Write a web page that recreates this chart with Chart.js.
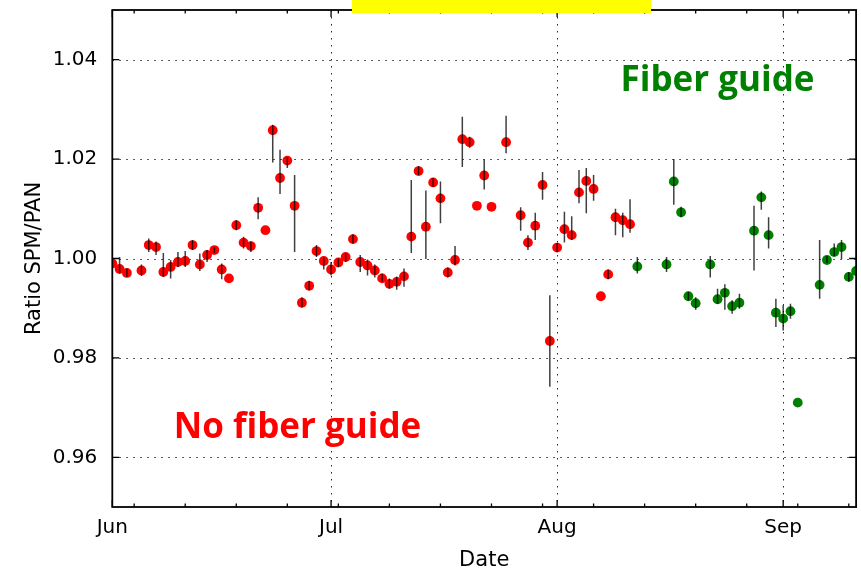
<!DOCTYPE html>
<html>
<head>
<meta charset="utf-8">
<script src="https://cdn.jsdelivr.net/npm/chart.js@4.4.1/dist/chart.umd.min.js"></script>
<style>
  html, body { margin: 0; padding: 0; background: #ffffff; }
  #wrap { position: relative; width: 861px; height: 569px; }
  #banner { position: absolute; left: 352px; top: 0px; width: 299px; height: 13px; background: #ffff00; }
</style>
</head>
<body>
<div id="wrap">
  <canvas id="c" width="861" height="569"></canvas>
  <div id="banner"></div>
</div>
<script>
// ---- data (x = days since 1 June) ----
const monthTickDays = [0, 30, 61, 92];
const monthLabels = ['Jun', 'Jul', 'Aug', 'Sep'];
const minorTickDays = [3, 10, 17, 24, 31, 38, 45, 52, 59, 66, 73, 80, 87, 94, 101];
const yTicks = [0.96, 0.98, 1.00, 1.02, 1.04];

// No fiber guide (red)
const redDays = [0,1,2,4,5,6,7,8,9,10,11,12,13,14,15,16,17,18,19,20,21,22,23,24,25,26,27,28,29,30,31,32,33,34,35,36,37,38,39,40,41,42,43,44,45,46,47,48,49,50,51,52,54,56,57,58,59,60,61,62,63,64,65,66,67,68,69,70,71];
const redRatio = [0.9990,0.9979,0.9971,0.9976,1.0027,1.0023,0.9973,0.9983,0.9993,0.9995,1.0027,0.9988,1.0007,1.0017,0.9978,0.9960,1.0067,1.0032,1.0025,1.0102,1.0057,1.0258,1.0162,1.0197,1.0106,0.9911,0.9945,1.0015,0.9995,0.9978,0.9992,1.0003,1.0039,0.9993,0.9986,0.9976,0.9960,0.9949,0.9953,0.9964,1.0044,1.0176,1.0064,1.0153,1.0121,0.9972,0.9997,1.0240,1.0234,1.0106,1.0167,1.0104,1.0234,1.0087,1.0032,1.0066,1.0148,0.9834,1.0022,1.0059,1.0047,1.0133,1.0156,1.0140,0.9924,0.9968,1.0083,1.0077,1.0069];
const redLow  = [null,0.9970,0.9963,0.9965,1.0013,1.0007,0.9963,0.9960,0.9983,0.9983,1.0017,0.9975,0.9993,1.0011,0.9958,null,1.0057,1.0020,1.0013,1.0079,null,1.0193,1.0130,1.0182,1.0013,0.9902,0.9936,1.0003,0.9978,0.9966,0.9983,0.9993,1.0030,0.9973,0.9966,0.9962,0.9953,0.9939,0.9937,0.9943,1.0011,1.0168,0.9999,1.0144,1.0071,0.9962,0.9986,1.0184,1.0223,null,1.0139,null,1.0212,1.0056,1.0017,1.0037,1.0118,0.9742,1.0013,1.0032,1.0037,1.0111,1.0091,1.0116,null,0.9958,1.0047,1.0043,1.0052];
const redHigh = [null,1.0003,0.9980,0.9988,1.0040,1.0034,1.0011,0.9997,1.0013,1.0015,1.0037,1.0010,1.0017,1.0023,0.9990,null,1.0077,1.0044,1.0034,1.0123,null,1.0269,1.0219,1.0203,1.0168,0.9922,0.9955,1.0027,1.0003,0.9993,1.0000,1.0010,1.0049,1.0007,0.9998,0.9988,0.9970,0.9960,0.9964,0.9980,1.0158,1.0186,1.0137,1.0162,1.0155,0.9982,1.0025,1.0285,1.0245,null,1.0199,null,1.0287,1.0103,1.0047,1.0092,1.0174,0.9926,1.0031,1.0094,1.0085,1.0178,1.0182,1.0168,null,0.9978,1.0100,1.0092,1.0119];

// Fiber guide (green)
const greenDays = [72,76,77,78,79,80,82,83,84,85,86,88,89,90,91,92,93,94,97,98,99,100,101,102];
const greenRatio = [0.9984,0.9988,1.0155,1.0093,0.9924,0.9910,0.9988,0.9918,0.9931,0.9904,0.9911,1.0056,1.0123,1.0047,0.9891,0.9879,0.9894,0.9710,0.9947,0.9997,1.0013,1.0023,0.9963,0.9975];
const greenLow  = [0.9970,0.9973,1.0108,1.0083,0.9916,0.9897,0.9962,0.9909,0.9897,0.9889,0.9899,0.9976,1.0098,1.0020,0.9862,0.9855,0.9879,null,0.9919,0.9991,1.0005,0.9999,0.9953,null];
const greenHigh = [1.0003,1.0003,1.0200,1.0104,0.9933,0.9922,1.0005,0.9939,0.9948,0.9916,0.9929,1.0106,1.0135,1.0083,0.9919,0.9906,0.9909,null,1.0037,1.0005,1.0030,1.0037,0.9973,null];

const toPoints = (xs, ys, lo, hi) => xs.map((x, i) => ({ x: x, y: ys[i], lo: lo[i], hi: hi[i] }));

// ---- plugins ----
const gridPlugin = {
  id: 'dottedGrid',
  beforeDatasetsDraw(chart) {
    const { ctx, chartArea: a, scales: { x, y } } = chart;
    ctx.save();
    ctx.strokeStyle = 'rgba(0,0,0,0.85)';
    ctx.lineWidth = 1;
    ctx.setLineDash([1.5, 5.5]);
    yTicks.forEach(v => {
      const py = Math.round(y.getPixelForValue(v)) + 0.5;
      ctx.beginPath(); ctx.moveTo(a.left, py); ctx.lineTo(a.right, py); ctx.stroke();
    });
    monthTickDays.forEach(v => {
      const px = Math.round(x.getPixelForValue(v)) + 0.5;
      if (px <= a.left + 1 || px >= a.right - 1) return;
      ctx.beginPath(); ctx.moveTo(px, a.top); ctx.lineTo(px, a.bottom); ctx.stroke();
    });
    ctx.restore();
  }
};

const errorBarPlugin = {
  id: 'errorBars',
  afterDatasetsDraw(chart) {
    const { ctx, chartArea: a, scales: { x, y } } = chart;
    ctx.save();
    ctx.beginPath(); ctx.rect(a.left, a.top, a.right - a.left, a.bottom - a.top); ctx.clip();
    ctx.strokeStyle = 'rgba(0,0,0,0.75)';
    ctx.lineWidth = 1.5;
    chart.data.datasets.forEach(ds => {
      ds.data.forEach(p => {
        if (p.lo == null || p.hi == null) return;
        const px = x.getPixelForValue(p.x);
        ctx.beginPath();
        ctx.moveTo(px, y.getPixelForValue(p.lo));
        ctx.lineTo(px, y.getPixelForValue(p.hi));
        ctx.stroke();
      });
    });
    ctx.restore();
  }
};

const framePlugin = {
  id: 'frame',
  afterDatasetsDraw(chart) {
    const { ctx, chartArea: a, scales: { x, y } } = chart;
    ctx.save();
    ctx.strokeStyle = '#000';
    ctx.lineWidth = 1.3;
    const major = 7, minor = 3.5;
    monthTickDays.forEach(v => {
      const px = x.getPixelForValue(v);
      ctx.beginPath();
      ctx.moveTo(px, a.bottom); ctx.lineTo(px, a.bottom - major);
      ctx.moveTo(px, a.top); ctx.lineTo(px, a.top + major);
      ctx.stroke();
    });
    minorTickDays.forEach(v => {
      const px = x.getPixelForValue(v);
      ctx.beginPath();
      ctx.moveTo(px, a.bottom); ctx.lineTo(px, a.bottom - minor);
      ctx.moveTo(px, a.top); ctx.lineTo(px, a.top + minor);
      ctx.stroke();
    });
    yTicks.forEach(v => {
      const py = y.getPixelForValue(v);
      ctx.beginPath();
      ctx.moveTo(a.left, py); ctx.lineTo(a.left + major, py);
      ctx.moveTo(a.right, py); ctx.lineTo(a.right - major, py);
      ctx.stroke();
    });
    ctx.lineWidth = 1.8;
    ctx.strokeRect(a.left, a.top, a.right - a.left, a.bottom - a.top);
    ctx.restore();
  }
};

const labelPlugin = {
  id: 'regionLabels',
  afterDraw(chart, args, opts) {
    const { ctx, scales: { x, y } } = chart;
    ctx.save();
    ctx.font = 'bold 35px "Open Sans", "Liberation Sans", sans-serif';
    ctx.textAlign = 'center';
    ctx.textBaseline = 'alphabetic';
    opts.items.forEach(it => {
      ctx.fillStyle = it.color;
      ctx.fillText(it.text, x.getPixelForValue(it.x), y.getPixelForValue(it.y));
    });
    ctx.restore();
  }
};

new Chart(document.getElementById('c'), {
  type: 'scatter',
  data: {
    datasets: [
      {
        label: 'No fiber guide',
        data: toPoints(redDays, redRatio, redLow, redHigh),
        backgroundColor: '#ff0000',
        borderColor: '#ff0000',
        borderWidth: 0,
        pointRadius: 4.9,
        pointHoverRadius: 4.9
      },
      {
        label: 'Fiber guide',
        data: toPoints(greenDays, greenRatio, greenLow, greenHigh),
        backgroundColor: '#008000',
        borderColor: '#008000',
        borderWidth: 0,
        pointRadius: 4.9,
        pointHoverRadius: 4.9
      }
    ]
  },
  options: {
    responsive: false,
    animation: false,
    devicePixelRatio: 1,
    events: [],
    layout: { padding: { top: 10, right: 4, bottom: 0, left: 0 } },
    plugins: {
      legend: { display: false },
      tooltip: { enabled: false },
      regionLabels: {
        items: [
          { text: 'Fiber guide', color: '#008000', x: 83, y: 1.0337 },
          { text: 'No fiber guide', color: '#ff0000', x: 25.4, y: 0.9638 }
        ]
      }
    },
    scales: {
      x: {
        type: 'linear',
        min: 0,
        max: 102,
        afterBuildTicks: s => { s.ticks = monthTickDays.map(v => ({ value: v })); },
        afterFit: s => { s.height = 62; s.paddingLeft = 0; s.paddingRight = 0; },
        grid: { display: false, drawTicks: false },
        border: { display: false },
        ticks: {
          autoSkip: false,
          maxRotation: 0,
          padding: 9,
          color: '#000',
          font: { family: '"DejaVu Sans"', size: 20 },
          callback: v => monthLabels[monthTickDays.indexOf(v)]
        },
        title: {
          display: true,
          text: 'Date',
          color: '#000',
          font: { family: '"DejaVu Sans"', size: 21, lineHeight: 0.82 },
          padding: { top: 0, bottom: 0 }
        }
      },
      y: {
        type: 'linear',
        min: 0.95,
        max: 1.05,
        afterBuildTicks: s => { s.ticks = yTicks.map(v => ({ value: v })); },
        afterFit: s => { s.width = 112.3; s.paddingTop = 0; s.paddingBottom = 0; },
        grid: { display: false, drawTicks: false },
        border: { display: false },
        ticks: {
          padding: 15,
          color: '#000',
          font: { family: '"DejaVu Sans"', size: 20 },
          callback: v => v.toFixed(2)
        },
        title: {
          display: true,
          text: 'Ratio SPM/PAN',
          color: '#000',
          font: { family: '"DejaVu Sans"', size: 21 },
          padding: { top: 22, bottom: 0 }
        }
      }
    }
  },
  plugins: [gridPlugin, errorBarPlugin, framePlugin, labelPlugin]
});
</script>
</body>
</html>
